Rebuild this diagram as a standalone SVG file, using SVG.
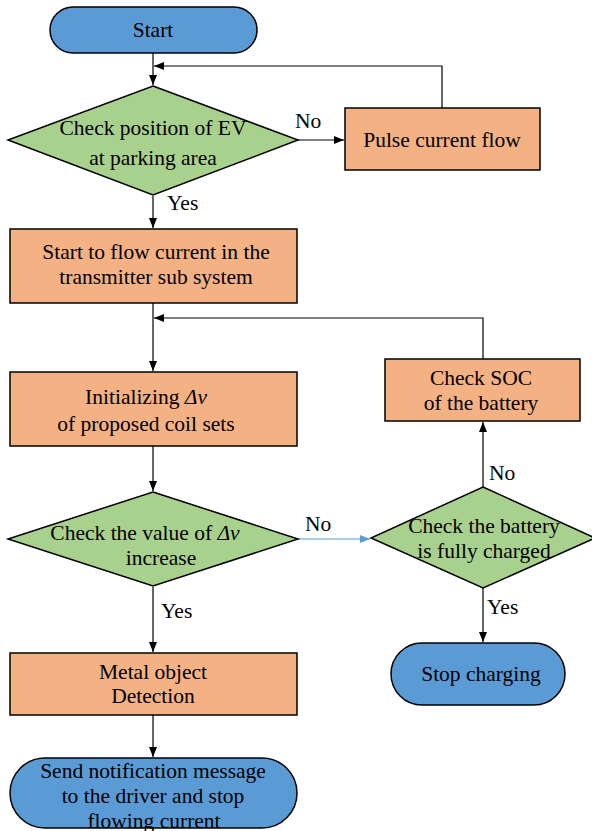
<svg xmlns="http://www.w3.org/2000/svg" width="592" height="831" viewBox="0 0 592 831">
<style>
text{font-family:'Liberation Serif','Times New Roman',serif;font-size:21.5px;fill:#000}
.t{text-anchor:middle}
.term{fill:#5B9BD5;stroke:#000;stroke-width:1.5}
.proc{fill:#F4B183;stroke:#000;stroke-width:1.5}
.dec{fill:#A9D18E;stroke:#000;stroke-width:1.5}
.c{fill:none;stroke:#000;stroke-width:1.2}
.cb{fill:none;stroke:#5B9BD5;stroke-width:1.2}
</style>
<defs>
<marker id="a" viewBox="0 0 10 10" refX="10" refY="5" markerWidth="10" markerHeight="10" markerUnits="userSpaceOnUse" orient="auto"><path d="M0,1 L10,5 L0,9 Z" fill="#000"/></marker>
<marker id="ab" viewBox="0 0 10 10" refX="10" refY="5" markerWidth="10" markerHeight="10" markerUnits="userSpaceOnUse" orient="auto"><path d="M0,1 L10,5 L0,9 Z" fill="#5B9BD5"/></marker>
</defs>
<g id="connectors">
<path class="c" d="M153,53 V85" marker-end="url(#a)"/>
<path class="c" d="M442,108 V66 H154" marker-end="url(#a)"/>
<path class="c" d="M298,140 H344" marker-end="url(#a)"/>
<path class="c" d="M153,196 V228" marker-end="url(#a)"/>
<path class="c" d="M153,303 V371" marker-end="url(#a)"/>
<path class="c" d="M483,359 V318 H154" marker-end="url(#a)"/>
<path class="c" d="M153,446 V491" marker-end="url(#a)"/>
<path class="cb" d="M298,539 H370" marker-end="url(#ab)"/>
<path class="c" d="M483,487 V422" marker-end="url(#a)"/>
<path class="c" d="M483,588 V642" marker-end="url(#a)"/>
<path class="c" d="M153,587 V652" marker-end="url(#a)"/>
<path class="c" d="M153,715 V757" marker-end="url(#a)"/>
<text x="295" y="128">No</text>
<text x="167" y="210">Yes</text>
<text x="305" y="531">No</text>
<text x="489" y="480">No</text>
<text x="161" y="618">Yes</text>
<text x="487" y="614">Yes</text>
</g>
<g id="start">
<rect class="term" x="50" y="7" width="207" height="46" rx="23"/>
<text class="t" x="153" y="37">Start</text>
</g>
<g id="check-position">
<polygon class="dec" points="153,86 298,140 153,195 8,140"/>
<text class="t" x="153" y="135">Check position of EV</text>
<text class="t" x="153" y="165">at parking area</text>
</g>
<g id="pulse">
<rect class="proc" x="345" y="108" width="195" height="62"/>
<text class="t" x="442" y="147">Pulse current flow</text>
</g>
<g id="start-flow">
<rect class="proc" x="10" y="229" width="287" height="74"/>
<text class="t" x="156" y="259">Start to flow current in the</text>
<text class="t" x="156" y="284">transmitter sub system</text>
</g>
<g id="init">
<rect class="proc" x="10" y="372" width="287" height="74"/>
<text class="t" x="146" y="404">Initializing <tspan font-style="italic">Δv</tspan></text>
<text class="t" x="146" y="431">of proposed coil sets</text>
</g>
<g id="check-soc">
<rect class="proc" x="385" y="359" width="195" height="62"/>
<text class="t" x="481" y="385">Check SOC</text>
<text class="t" x="481" y="410">of the battery</text>
</g>
<g id="check-dv">
<polygon class="dec" points="153,492 298,539 153,586 8,539"/>
<text class="t" x="145" y="540">Check the value of <tspan font-style="italic">Δv</tspan></text>
<text class="t" x="161" y="565">increase</text>
</g>
<g id="check-battery">
<polygon class="dec" points="483,487 595,538 483,588 371,538"/>
<text class="t" x="484" y="533">Check the battery</text>
<text class="t" x="484" y="558">is fully charged</text>
</g>
<g id="stop-charging">
<rect class="term" x="391" y="643" width="174" height="62" rx="31"/>
<text class="t" x="481" y="681">Stop charging</text>
</g>
<g id="metal">
<rect class="proc" x="10" y="653" width="287" height="62"/>
<text class="t" x="153" y="679">Metal object</text>
<text class="t" x="153" y="703">Detection</text>
</g>
<g id="notify">
<rect class="term" x="10" y="758" width="287" height="70" rx="35"/>
<text class="t" x="153" y="778">Send notification message</text>
<text class="t" x="153" y="803">to the driver and stop</text>
<text class="t" x="154" y="828">flowing current</text>
</g>
</svg>
